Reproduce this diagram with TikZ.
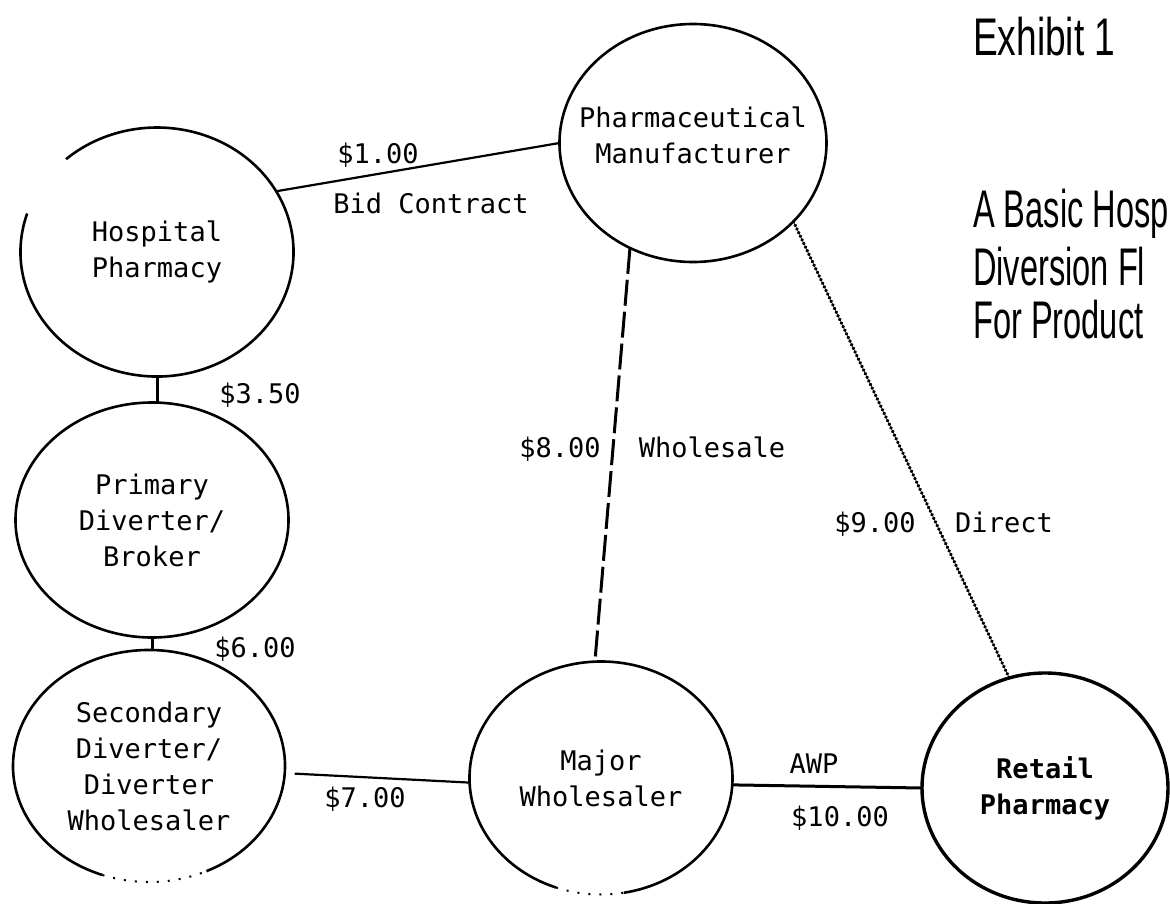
\documentclass[tikz,border=0pt]{standalone}
\usepackage{fontspec}
\usetikzlibrary{shapes.geometric}
\newfontfamily\lblfont{DejaVu Sans Mono}
\newfontfamily\ttlfont[FakeStretch=0.7]{Liberation Sans}
\newfontfamily\ttlfontb[FakeStretch=0.615]{Liberation Sans}
\begin{document}
\begin{tikzpicture}[x=1pt,y=1pt,
  circ/.style={ellipse, inner sep=0pt, outer sep=0pt},
  txt/.style={align=center, inner sep=0pt, font=\fontsize{27}{36}\selectfont\lblfont},
  ring/.style={line width=2.6pt},
  lab/.style={font=\fontsize{27}{36}\selectfont\lblfont, inner sep=0pt, anchor=base},
  ttl/.style={font=\fontsize{53}{60}\selectfont\ttlfont, inner sep=0pt, anchor=base west},
  ttlb/.style={font=\fontsize{53}{60}\selectfont\ttlfontb, inner sep=0pt, anchor=base west},
  link/.style={line width=2.2pt},
  thick link/.style={line width=3pt},
  dashlink/.style={line width=3pt, dash pattern=on 26pt off 6pt},
  dotlink/.style={line width=3.2pt, line cap=round, dash pattern=on 0.8pt off 3.2pt}]
\useasboundingbox (0,0) rectangle (1170,-903);
\clip (0,0) rectangle (1170,-903);
\fill[white] (0,0) rectangle (1170,-903);

% nodes
\node[circ, draw, ring, minimum width=267pt, minimum height=238pt,
  label={[txt, yshift=8pt]center:Pharmaceutical\\Manufacturer}] (pharma) at (693,-143) {};
\node[circ, minimum width=273pt, minimum height=249pt,
  label={[txt]center:Hospital\\Pharmacy}] (hosp) at (157,-252) {};
\node[circ, draw, ring, minimum width=273pt, minimum height=235pt,
  label={[txt]center:Primary\\Diverter/\\Broker}] (prim) at (152,-520) {};
\node[circ, minimum width=272pt, minimum height=232pt,
  label={[txt]center:Secondary\\Diverter/\\Diverter\\Wholesaler}] (sec) at (149,-766) {};
\node[circ, minimum width=263pt, minimum height=233pt,
  label={[txt]center:Major\\Wholesaler}] (maj) at (601,-778) {};
\node[circ, draw, line width=3.4pt, minimum width=246pt, minimum height=230pt,
  label={[txt, font=\fontsize{27}{36}\selectfont\lblfont\bfseries]center:Retail\\Pharmacy}] (ret) at (1045,-788) {};

% open outlines
\draw[ring] ([shift={(162:136.5 and 124.5)}]hosp.center) arc[start angle=162, end angle=491.8, x radius=136.5, y radius=124.5];
\draw[ring] ([shift={(295:136 and 116)}]sec.center) arc[start angle=295, end angle=610, x radius=136, y radius=116];
\draw[ring, line width=2pt, dash pattern=on 2pt off 9pt] ([shift={(250:136 and 116)}]sec.center) arc[start angle=250, end angle=295, x radius=136, y radius=116];
\draw[ring] ([shift={(280:131.5 and 116.5)}]maj.center) arc[start angle=280, end angle=610, x radius=131.5, y radius=116.5];
\draw[ring, line width=2pt, dash pattern=on 2pt off 9pt] ([shift={(250:131.5 and 116.5)}]maj.center) arc[start angle=250, end angle=280, x radius=131.5, y radius=116.5];

% connectors
\draw[link] (hosp.27.7) -- (pharma.180);
\draw[thick link] (hosp.south) -- (hosp.south |- prim.north);
\draw[thick link] (prim.south) -- (prim.south |- sec.north);
\draw[link, shorten <=10pt] (sec.357) -- (maj.182);
\draw[thick link] (maj.357) -- (ret.180);
\draw[dashlink] (pharma.239.4) -- (maj.93.9);
\draw[dotlink] (pharma.322.6) -- (ret.108.3);

% labels
\node[lab] (l1) at (378,-163) {\$1.00};
\node[lab] (lbid) at (431,-213) {Bid Contract};
\node[lab] (l35) at (260,-403) {\$3.50};
\node[lab] (l6) at (255,-657) {\$6.00};
\node[lab] (l7) at (365,-807) {\$7.00};
\node[lab] (l8) at (560,-457) {\$8.00};
\node[lab] (lwh) at (712,-457) {Wholesale};
\node[lab] (l9) at (875,-532) {\$9.00};
\node[lab] (ldir) at (1004,-532) {Direct};
\node[lab] (lawp) at (814,-773) {AWP};
\node[lab] (l10) at (840,-826) {\$10.00};

% title
\node[ttl] (t0) at (973,-55) {Exhibit 1};
\node[ttlb] (t1) at (973,-227) {A Basic Hosp};
\node[ttlb] (t2) at (973,-285) {Diversion Fl};
\node[ttlb] (t3) at (973,-338) {For Product};
\end{tikzpicture}
\end{document}
